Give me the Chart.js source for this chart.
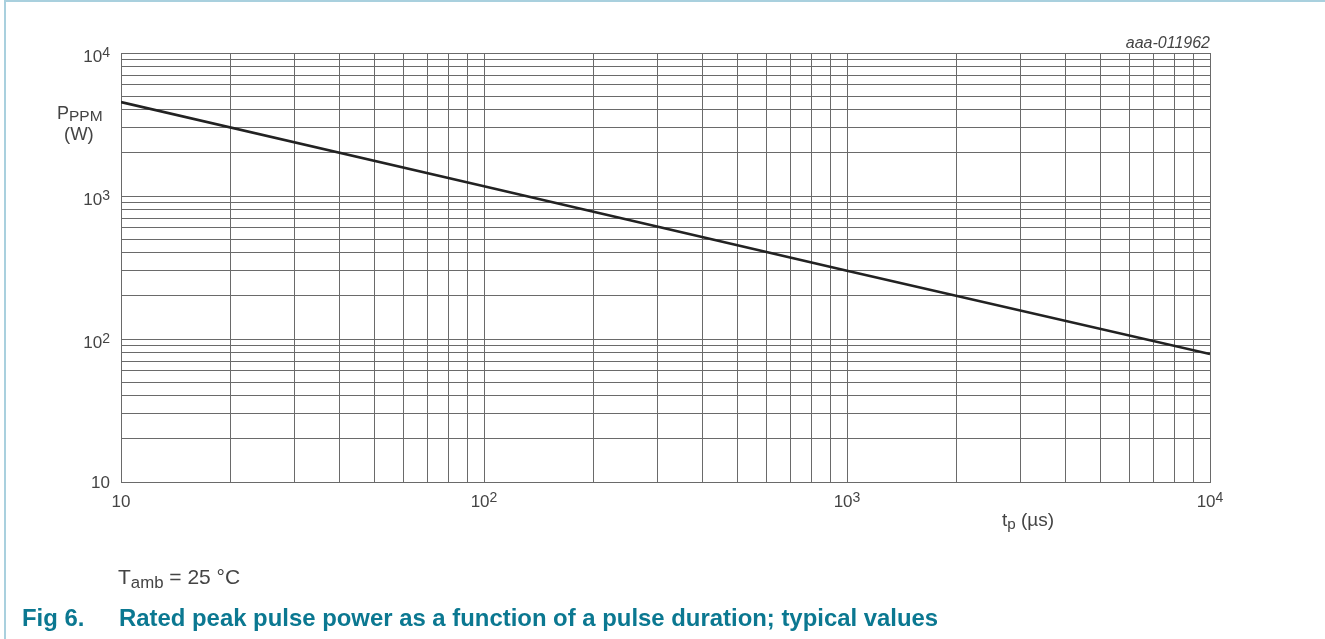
<!DOCTYPE html>
<html>
<head>
<meta charset="utf-8">
<script src="https://cdn.jsdelivr.net/npm/chart.js@4/dist/chart.umd.min.js"></script>
<style>
  html, body { margin: 0; padding: 0; background: #fff; }
  #wrap { position: relative; width: 1325px; height: 639px; overflow: hidden; font-family: "Liberation Sans", Arial, sans-serif; }
  #frame { position: absolute; left: 4px; top: 0; width: 1330px; height: 700px; border-left: 2px solid #a9d0de; border-top: 2px solid #a9d0de; box-sizing: border-box; }
  canvas { position: absolute; left: 0; top: 0; }
  .t { position: absolute; white-space: nowrap; color: #444; line-height: 1; }
  .sub { font-size: 0.8em; position: relative; top: 0.22em; }
  .cap { position: absolute; white-space: nowrap; color: #0b7891; font-weight: bold; font-size: 23.9px; line-height: 1; }
</style>
</head>
<body>
<div id="wrap">
  <div id="frame"></div>
  <canvas id="c" width="1325" height="639"></canvas>
  <div class="t" style="left:57px; top:104px; font-size:18px;">P<span style="font-size:15.5px; position:relative; top:2px;">PPM</span></div>
  <div class="t" style="left:64px; top:125px; font-size:18.5px;">(W)</div>
  <div class="t" style="right:115px; top:35px; font-size:16px; font-style:italic;">aaa-011962</div>
  <div class="t" style="left:1002px; top:510px; font-size:19px;">t<span class="sub">p</span> (µs)</div>
  <div class="t" style="left:118px; top:566px; font-size:21px;">T<span class="sub">amb</span> = 25 °C</div>
  <div class="cap" style="left:22px; top:606px;">Fig 6.</div>
  <div class="cap" style="left:119px; top:606px;">Rated peak pulse power as a function of a pulse duration; typical values</div>
</div>
<script>
// Pulse duration t_p (µs)
const pulseDuration = [10, 100, 1000, 10000];
// Rated peak pulse power P_PPM (W)
const peakPower = [4540, 1170, 300, 78.5];

// Grid positions (log decades with 2..9 subdivisions)
const xGridValues = [10,20,30,40,50,60,70,80,90,100,200,300,400,500,600,700,800,900,1000,2000,3000,4000,5000,6000,7000,8000,9000,10000];
const yGridValues = [10,20,30,40,50,60,70,80,90,100,200,300,400,500,600,700,800,900,1000,2000,3000,4000,5000,6000,7000,8000,9000,10000];

// Labelled ticks: [value, base, exponent]
const xTickLabels = [[10, "10", ""], [100, "10", "2"], [1000, "10", "3"], [10000, "10", "4"]];
const yTickLabels = [[10, "10", ""], [100, "10", "2"], [1000, "10", "3"], [10000, "10", "4"]];

const tickLabelPlugin = {
  id: 'tickLabels',
  afterDraw(chart) {
    const ctx = chart.ctx;
    const xs = chart.scales.x, ys = chart.scales.y;
    const base = '17px "Liberation Sans", Arial, sans-serif';
    const sup = '14px "Liberation Sans", Arial, sans-serif';
    ctx.save();
    ctx.fillStyle = '#444';
    ctx.textBaseline = 'alphabetic';
    ctx.textAlign = 'left';
    // x labels
    xTickLabels.forEach(([v, b, e]) => {
      const px = xs.getPixelForValue(v);
      ctx.font = base; const wb = ctx.measureText(b).width;
      ctx.font = sup; const we = e ? ctx.measureText(e).width : 0;
      const x0 = px - (wb + we) / 2;
      ctx.font = base;
      ctx.fillText(b, x0, chart.chartArea.bottom + 25);
      if (e) { ctx.font = sup; ctx.fillText(e, x0 + wb, chart.chartArea.bottom + 20); }
    });
    // y labels
    yTickLabels.forEach(([v, b, e]) => {
      const py = ys.getPixelForValue(v);
      ctx.font = base; const wb = ctx.measureText(b).width;
      ctx.font = sup; const we = e ? ctx.measureText(e).width : 0;
      const right = chart.chartArea.left - 11;
      const x0 = right - wb - we;
      ctx.font = base;
      ctx.fillText(b, x0, py + (e ? 9 : 6));
      if (e) { ctx.font = sup; ctx.fillText(e, x0 + wb, py + 4); }
    });
    ctx.restore();
  }
};

const gridOpts = { color: '#6a6a6a', lineWidth: 1, drawTicks: false };

new Chart(document.getElementById('c'), {
  type: 'scatter',
  data: {
    datasets: [{
      data: pulseDuration.map((x, i) => ({ x, y: peakPower[i] })),
      showLine: true,
      borderColor: '#222',
      borderWidth: 2.6,
      pointRadius: 0,
      fill: false,
      tension: 0
    }]
  },
  options: {
    responsive: false,
    animation: false,
    devicePixelRatio: 1,
    layout: { padding: { left: 121, right: 115, top: 53, bottom: 157 } },
    plugins: { legend: { display: false }, tooltip: { enabled: false } },
    scales: {
      x: {
        type: 'logarithmic', min: 10, max: 10000,
        afterBuildTicks: s => { s.ticks = xGridValues.map(v => ({ value: v })); },
        ticks: { display: false },
        grid: gridOpts,
        border: { color: '#6a6a6a', width: 1 }
      },
      y: {
        type: 'logarithmic', min: 10, max: 10000,
        afterBuildTicks: s => { s.ticks = yGridValues.map(v => ({ value: v })); },
        ticks: { display: false },
        grid: gridOpts,
        border: { color: '#6a6a6a', width: 1 }
      }
    }
  },
  plugins: [tickLabelPlugin]
});
</script>
</body>
</html>
